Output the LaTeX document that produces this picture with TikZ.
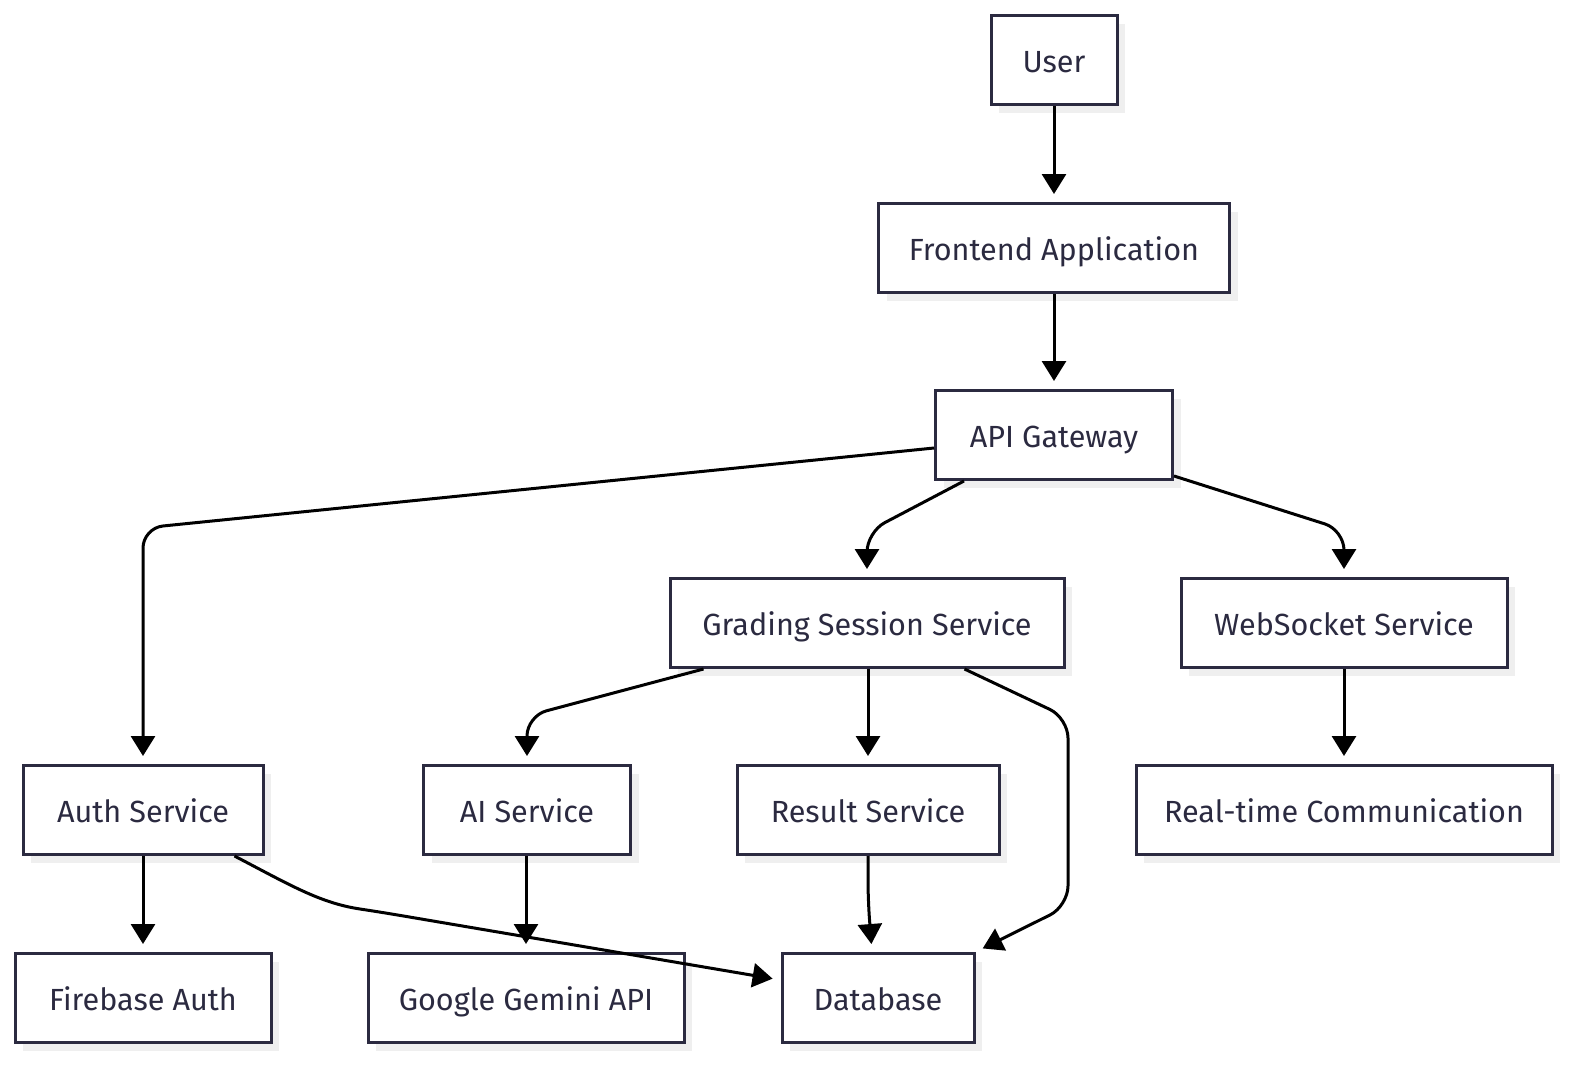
\documentclass[tikz,border=0pt]{standalone}
\usepackage{fontspec}
\setmainfont{Fira Sans}
\usetikzlibrary{arrows.meta, shadows, calc}
\definecolor{boxline}{HTML}{2B2A40}
\definecolor{boxshade}{HTML}{EFEFEF}

\begin{document}
\begin{tikzpicture}[x=0.5pt, y=-0.5pt,
    box/.style={draw=boxline, line width=1.5pt, fill=white, text=boxline,
        minimum height=44.5pt, text height=15.5pt, text depth=3pt,
        font=\fontsize{15.3}{18}\selectfont,
        drop shadow={shadow xshift=4pt, shadow yshift=-4pt, fill=boxshade, opacity=1}},
    link/.style={line width=1.5pt, -{Triangle[length=10pt, width=12pt]},
        shorten >=4pt, rounded corners=10pt}]
            \useasboundingbox (0,0) rectangle (1587,1072);

            \foreach \n/\x/\y/\w/\t in {user/1054/60/63/User,
                frontend/1054/248/175.5/Frontend Application,
                gateway/1054/435/118.5/API Gateway,
                grading/867/623/197/Grading Session Service,
                websocket/1344/623/163/WebSocket Service,
                auth/143/810/120/Auth Service,
                ai/527/810/103.5/AI Service,
                result/868/810/131/Result Service,
                realtime/1344/810/208/Real-time Communication,
                firebase/143/998/128/Firebase Auth,
                gemini/526/998/158/Google Gemini API,
                database/878/998/96/Database} {
                \node[box, minimum width=\w pt] (\n) at (\x,\y) {\t};
            }

            \draw[link] (user) -- (frontend);
            \draw[link] (frontend) -- (gateway);
            \draw[link] ([yshift=-6.5pt]gateway.west) -- (auth.north |- 0,528) -- (auth);
            \draw[link] ([xshift=15pt]gateway.south west) -- (grading.north |- 0,532) -- (grading);
            \draw[link] ([yshift=2.5pt]gateway.south east) -- (websocket.north |- 0,530) -- (websocket);

            \draw[link] ([xshift=17.5pt]grading.south west) -- (ai.north |- 0,716) -- (ai);
            \draw[link] (grading.south -| result) -- (result);
            \draw[link] ([xshift=-50.5pt]grading.south east) -- (1068,718) -- (1068,906) -- (database.north east);
            \draw[link] (websocket) -- (realtime);

            \draw[link] (auth) -- (firebase);
            \draw[link] ([xshift=-15pt]auth.south east) .. controls (290,885) and (320,903) .. (380,912)
                -- ([yshift=9pt]database.west);
            \draw[link] (ai.south -| gemini) -- (gemini);
            \draw[link] (result) -- (result.south |- 0,900) -- ([xshift=-3pt]database.north);
        \end{tikzpicture}
\end{document}
